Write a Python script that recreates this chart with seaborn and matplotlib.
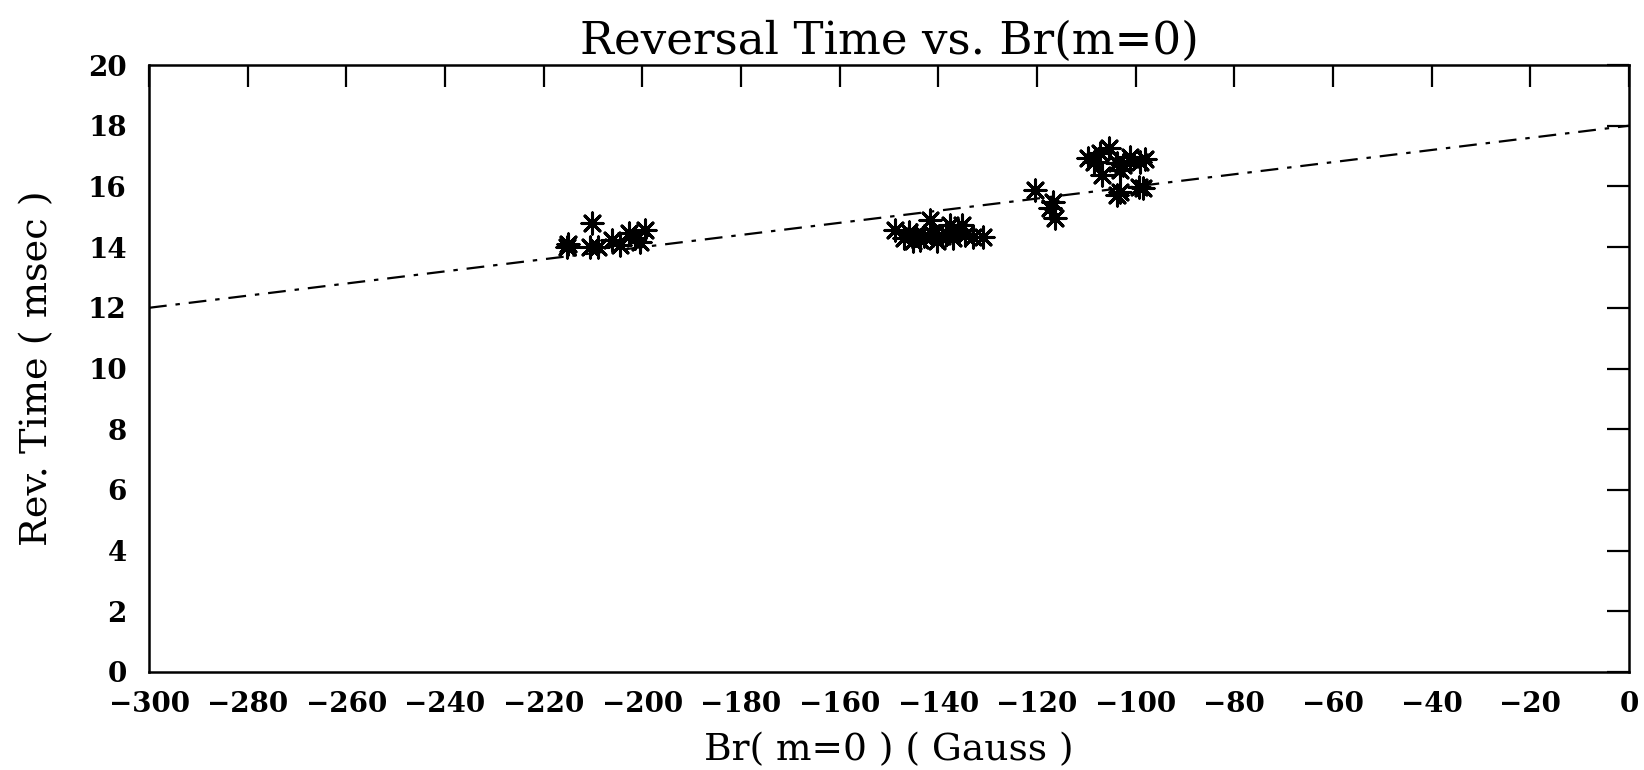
import matplotlib
matplotlib.use("Agg")
import matplotlib.pyplot as plt
import seaborn as sns
import pandas as pd

# Data
br_values = [-215.3, -215.0, -210.3, -210.6, -208.9, -206.2, -204.5, -202.8, -200.5, -199.5, -201.5,
             -148.8, -147.0, -146.0, -145.2, -144.5, -143.8, -143.0, -141.7, -141.0, -140.2, -139.3,
             -138.5, -137.6, -137.0, -136.0, -135.3, -134.5, -133.0, -130.9,
             -120.4, -116.7, -117.3, -116.3,
             -109.6, -108.5, -107.2, -106.9, -105.5, -103.8, -103.2, -102.5, -101.1, -99.1, -98.2,
             -103.8, -103.2, -99.4, -98.5]
rev_time = [14.01, 14.10, 14.78, 14.00, 14.00, 14.23, 14.07, 14.45, 14.18, 14.56, 14.30,
            14.56, 14.30, 14.50, 14.20, 14.40, 14.25, 14.35, 14.90, 14.40, 14.20, 14.35,
            14.45, 14.73, 14.30, 14.55, 14.73, 14.40, 14.34, 14.34,
            15.88, 15.50, 15.28, 14.95,
            16.93, 16.80, 17.09, 16.38, 17.26, 16.76, 16.54, 16.70, 16.98, 16.81, 16.90,
            15.72, 15.83, 15.99, 15.95]
fit_x = [-300, 0]
fit_y = [12.0, 18.0]
x_ticks = list(range(-300, 1, 20))
y_ticks = list(range(0, 21, 2))

sns.set_theme(style="white")
plt.rcParams['font.family'] = ['DejaVu Serif']
plt.rcParams['text.color'] = 'black'
plt.rcParams['axes.labelcolor'] = 'black'

fig = plt.figure(figsize=(16.44, 7.70), dpi=100)
ax = fig.add_axes([149/1644, 1 - 672/770, (1629-149)/1644, (672-65)/770])

df = pd.DataFrame({"br": br_values, "t": rev_time})
fit = pd.DataFrame({"x": fit_x, "y": fit_y})

sns.lineplot(data=fit, x="x", y="y", ax=ax, color="black", linewidth=1.6,
             linestyle=(0, (8, 4, 2, 4)))
sns.scatterplot(data=df, x="br", y="t", ax=ax, marker=(8, 2, 0), s=230,
                color="black", linewidth=2.2, edgecolor="black")

ax.set_xlim(-300, 0)
ax.set_ylim(0, 20)
ax.set_xticks(x_ticks)
ax.set_yticks(y_ticks)
ax.set_xticklabels([f"\u2212{abs(v)}" if v < 0 else str(v) for v in x_ticks])
ax.tick_params(direction="in", length=16, width=1.6, top=True, right=True,
               labelsize=20, colors="black")
ax.tick_params(axis="x", pad=14)
ax.tick_params(axis="y", pad=16)
for lab in ax.get_xticklabels() + ax.get_yticklabels():
    lab.set_fontweight("bold")
for sp in ax.spines.values():
    sp.set_color("black")
    sp.set_linewidth(1.8)

ax.set_xlabel("Br( m=0 ) ( Gauss )", fontsize=27, color="black", labelpad=10)
ax.set_ylabel("Rev. Time ( msec )", fontsize=27.5, color="black", labelpad=24)
ax.set_title("Reversal Time vs. Br(m=0)", fontsize=32.5, color="black", pad=8)

fig.savefig("out.png", dpi=100, facecolor="white")
